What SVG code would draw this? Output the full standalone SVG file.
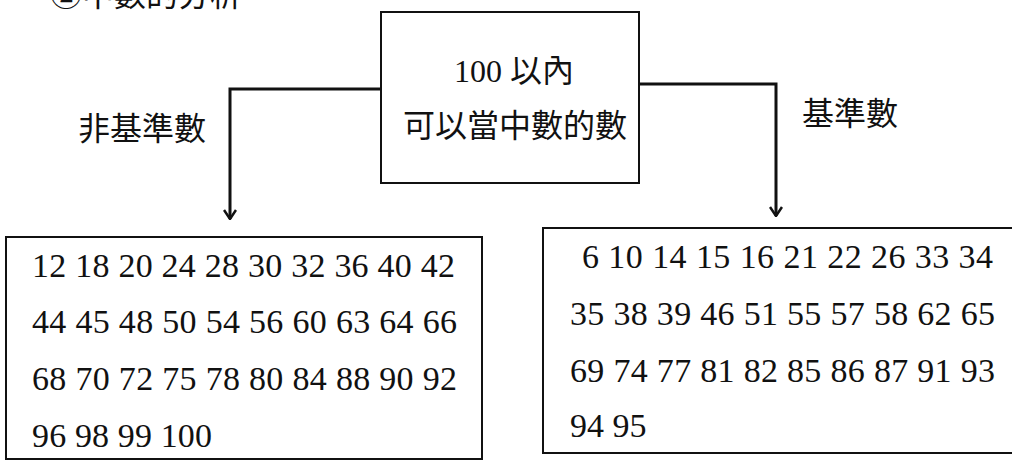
<svg xmlns="http://www.w3.org/2000/svg" width="1012" height="460" viewBox="0 0 1012 460">
<defs>
<style>
.box{fill:#fff;stroke:#111;stroke-width:2}
.cjk{font-family:"Liberation Serif","Noto Sans CJK TC",serif;font-size:32px;fill:#111}
.num{font-family:"Liberation Serif",serif;font-size:34px;fill:#111}
.conn{fill:none;stroke:#111;stroke-width:3}
</style>
<marker id="arr" viewBox="0 0 14 14" refX="13" refY="7" markerWidth="14" markerHeight="14" markerUnits="userSpaceOnUse" orient="auto">
<path d="M4,1 L13,7 L4,13" fill="none" stroke="#111" stroke-width="2.5"/>
</marker>
</defs>
<rect width="1012" height="460" fill="#fff"/>
<text class="cjk" x="50" y="6" font-size="30">②中數的分析</text>
<g id="connectors">
<path class="conn" d="M381,89 L230,89 L230,219" marker-end="url(#arr)"/>
<path class="conn" d="M639,84 L776,84 L776,216" marker-end="url(#arr)"/>
</g>
<g id="top">
<rect class="box" x="381" y="12" width="258" height="171"/>
<text class="cjk" x="514" y="82" text-anchor="middle">100 以內</text>
<text class="cjk" x="515" y="137" text-anchor="middle">可以當中數的數</text>
</g>
<g id="label-left"><text class="cjk" x="78" y="140">非基準數</text></g>
<g id="label-right"><text class="cjk" x="802" y="125">基準數</text></g>
<g id="left">
<rect class="box" x="6" y="237" width="476" height="222"/>
<text class="num" x="32" y="277" textLength="423">12 18 20 24 28 30 32 36 40 42</text>
<text class="num" x="32" y="333" textLength="425">44 45 48 50 54 56 60 63 64 66</text>
<text class="num" x="32" y="390" textLength="425">68 70 72 75 78 80 84 88 90 92</text>
<text class="num" x="32" y="447" textLength="180">96 98 99 100</text>
</g>
<g id="right">
<rect class="box" x="543" y="228" width="480" height="225"/>
<text class="num" x="582" y="268" textLength="411">6 10 14 15 16 21 22 26 33 34</text>
<text class="num" x="570" y="325" textLength="425">35 38 39 46 51 55 57 58 62 65</text>
<text class="num" x="570" y="382" textLength="425">69 74 77 81 82 85 86 87 91 93</text>
<text class="num" x="570" y="437">94 95</text>
</g>
</svg>
